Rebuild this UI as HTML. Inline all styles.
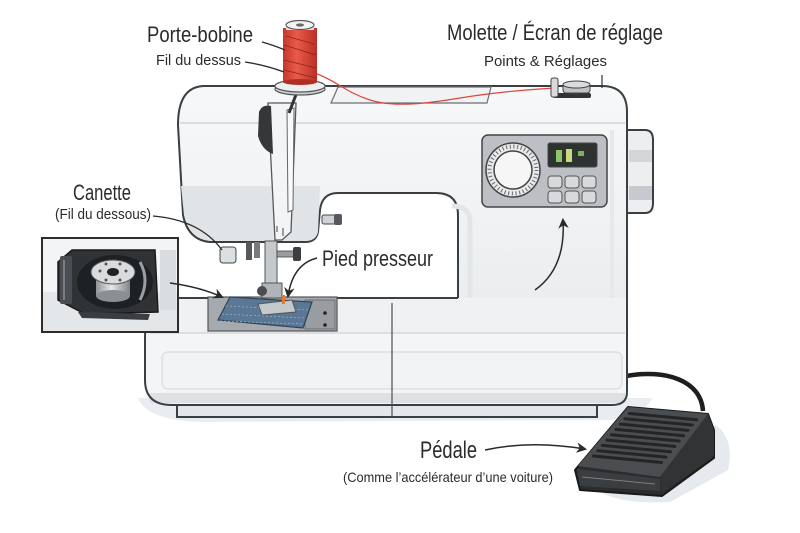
<!DOCTYPE html>
<html><head><meta charset="utf-8"><style>
html,body{margin:0;padding:0;background:#fff;}
svg{display:block;}
text{font-family:"Liberation Sans",sans-serif;fill:#2b2b2b;}
</style></head><body>
<svg width="800" height="533" viewBox="0 0 800 533" xmlns="http://www.w3.org/2000/svg">
<defs>
<marker id="ah" viewBox="0 0 10 10" refX="8" refY="5" markerWidth="7" markerHeight="7" orient="auto-start-reverse"><path d="M0,0 L10,5 L0,10 L3,5 Z" fill="#2a2a2a"/></marker>
<linearGradient id="spool" x1="0" x2="1"><stop offset="0" stop-color="#c7362b"/><stop offset="0.4" stop-color="#ea5a48"/><stop offset="1" stop-color="#b83025"/></linearGradient>
<linearGradient id="bob" x1="0" x2="1"><stop offset="0" stop-color="#8e9397"/><stop offset="0.45" stop-color="#e6e9eb"/><stop offset="1" stop-color="#80858a"/></linearGradient>
<linearGradient id="col" x1="0" y1="0" x2="0" y2="1"><stop offset="0" stop-color="#f7f8f9"/><stop offset="1" stop-color="#eaedef"/></linearGradient>
</defs>
<rect width="800" height="533" fill="#fff"/>

<!-- shadows -->
<path d="M138,398 Q146,420 200,422 L612,420 Q645,415 652,398 Z" fill="#e9ecf0"/>
<path d="M590,480 Q600,505 670,502 L728,470 Q735,440 716,425 Z" fill="#e6e9ed"/>

<!-- cable -->
<path d="M626,376 C665,369 701,380 703,411" fill="none" stroke="#1e1e1e" stroke-width="4.5"/>

<!-- base strip -->
<rect x="177" y="398" width="420" height="19" fill="#e4e7e9" stroke="#3a3f44" stroke-width="2"/>

<!-- upper body -->
<path d="M205,86 L602,86 Q627,86 627,112 L627,310 L458,310 L458,215 Q458,193 436,193 L338,193 Q322,193 320,210 L318,232 Q316,242 305,242 L210,242 Q188,240 183,215 L178,125 Q178,86 205,86 Z" fill="url(#col)" stroke="#3a3f44" stroke-width="2"/>
<!-- head lower shading -->
<path d="M181,186 L320,186 L318,232 Q316,241 305,241 L210,241 Q189,239 184,215 Z" fill="#e0e4e7"/>
<path d="M180,123 L625,123" stroke="#d9dde0" stroke-width="2"/>
<!-- column bevel -->
<path d="M470,300 L470,222 Q470,206 452,206" fill="none" stroke="#e3e6e9" stroke-width="5"/>
<path d="M612,130 L612,300" stroke="#e6e9eb" stroke-width="4"/>

<!-- opening knob -->
<rect x="322" y="215" width="18" height="9" rx="2" fill="#d0d3d6" stroke="#444" stroke-width="1"/>
<rect x="334" y="214" width="8" height="11" rx="2" fill="#55595d"/>

<!-- top recess -->
<path d="M338,87 L491,87 L487,103 L331,103 Z" fill="#f1f2f3" stroke="#6a6f74" stroke-width="1.2"/>

<!-- handwheel -->
<path d="M627,130 L645,130 Q653,130 653,140 L653,203 Q653,213 645,213 L627,213 Z" fill="#eceef0" stroke="#3a3f44" stroke-width="2"/>
<rect x="629" y="150" width="23" height="12" fill="#d3d7da"/>
<rect x="629" y="186" width="23" height="14" fill="#c6cace"/>

<!-- needle bar column -->
<path d="M268,103 L296,103 L291,232 L282,240 L275,240 Z" fill="#f3f4f5" stroke="#55595d" stroke-width="1.3"/>
<path d="M287,110 L294,108 L293,210 L288,212 Z" fill="#fafafa" stroke="#666" stroke-width="1"/>
<path d="M259,112 Q262,104 271,106 L273,154 Q262,150 258,136 Z" fill="#34383b"/>
<path d="M297,92 L289,113" stroke="#333" stroke-width="3"/>
<path d="M283,228 L283,236 M277,226 L277,232" stroke="#444" stroke-width="1"/>

<!-- spool -->
<ellipse cx="300" cy="89" rx="25" ry="6" fill="#cfd2d4" stroke="#55595d" stroke-width="1.2"/>
<ellipse cx="300" cy="86" rx="25" ry="6" fill="#eeeff0" stroke="#55595d" stroke-width="1.2"/>
<rect x="283" y="28" width="34" height="54" fill="url(#spool)"/>
<path d="M284,45 L316,55 M284,60 L316,68 M284,70 L316,78 M286,36 L314,44" stroke="#8e241b" stroke-width="0.8"/>
<ellipse cx="300" cy="82" rx="17" ry="3" fill="#b02e24"/>
<rect x="286" y="25" width="28" height="5" fill="#e2e3e4"/>
<ellipse cx="300" cy="25" rx="14" ry="4.5" fill="#f2f2f2" stroke="#55595d" stroke-width="1.2"/>
<ellipse cx="300" cy="25" rx="4" ry="1.6" fill="#666"/>

<!-- thread -->
<path d="M317,74 C335,80 345,92 370,100 S430,103 460,98 S520,90 556,88" fill="none" stroke="#e0453a" stroke-width="1.2"/>

<!-- top right pin / knob -->
<rect x="553" y="93" width="38" height="5" rx="2" fill="#333"/>
<rect x="551" y="78" width="7" height="19" rx="2" fill="#d8dadc" stroke="#444" stroke-width="1"/>
<rect x="563" y="84" width="27" height="9" rx="3" fill="#bfc3c6" stroke="#444" stroke-width="1"/>
<ellipse cx="576.5" cy="84.5" rx="13.5" ry="3.5" fill="#d9dcde" stroke="#444" stroke-width="1"/>
<path d="M602,75 L602,88" stroke="#333" stroke-width="1.2"/>

<!-- control panel -->
<rect x="482" y="135" width="125" height="72" rx="6" fill="#bcc0c4" stroke="#444" stroke-width="1.5"/>
<circle cx="513" cy="170" r="27" fill="#e9eaeb" stroke="#444" stroke-width="1.5"/>
<circle cx="513" cy="170" r="23.5" fill="none" stroke="#666" stroke-width="4" stroke-dasharray="1 2.7"/>
<circle cx="513" cy="170" r="19" fill="#f6f6f6" stroke="#444" stroke-width="1.5"/>
<rect x="548" y="143" width="49" height="24" rx="2" fill="#2e3331" stroke="#444" stroke-width="1"/>
<rect x="556" y="150" width="6" height="12" fill="#8fc46a"/>
<rect x="566" y="149" width="6" height="13" fill="#c6dc7c"/>
<rect x="578" y="151" width="6" height="5" fill="#7bb35a"/>
<g fill="#d7dadc" stroke="#555" stroke-width="1">
<rect x="548" y="176" width="14" height="12" rx="3"/><rect x="565" y="176" width="14" height="12" rx="3"/><rect x="582" y="176" width="14" height="12" rx="3"/>
<rect x="548" y="191" width="14" height="12" rx="3"/><rect x="565" y="191" width="14" height="12" rx="3"/><rect x="582" y="191" width="14" height="12" rx="3"/>
</g>

<!-- bed -->
<path d="M178,298 L627,298 L627,392 Q627,405 612,405 L172,405 Q145,405 145,380 L145,338 Q145,298 178,298 Z" fill="#f4f5f6"/>
<rect x="150" y="299" width="475" height="34" fill="#eff1f2"/>
<path d="M150,333 L625,333" stroke="#d4d8db" stroke-width="1.5"/>
<rect x="162" y="352" width="460" height="37" rx="6" fill="#f1f3f4" stroke="#d7dbde" stroke-width="1.2"/>
<path d="M148,393 L625,393 L625,403 L150,403 Z" fill="#dde1e4"/>
<path d="M458,298 L178,298 Q145,298 145,338 L145,380 Q145,405 172,405 L612,405 Q627,405 627,392 L627,290" fill="none" stroke="#3a3f44" stroke-width="2"/>
<path d="M392,303 L392,417" stroke="#4a4f54" stroke-width="1.2"/>

<!-- needle plate & fabric -->
<rect x="208" y="297" width="129" height="34" fill="#a6aaae" stroke="#555" stroke-width="1.2"/>
<rect x="305" y="300" width="30" height="29" fill="#999da1" stroke="#666" stroke-width="0.8"/>
<circle cx="325" cy="313" r="1.8" fill="#222"/><circle cx="325" cy="325" r="1.8" fill="#222"/>
<path d="M218,320 L230,297 L312,302 L303,328 Z" fill="#5a7895" stroke="#2e4358" stroke-width="1.2"/>
<path d="M226,306 L308,310 M222,314 L305,318 M220,321 L304,324" stroke="#9fb4c8" stroke-width="0.7" stroke-dasharray="2 2"/>

<!-- head underside parts -->
<rect x="220" y="247" width="16" height="16" rx="3" fill="#dcdfe1" stroke="#444" stroke-width="1"/>
<rect x="246" y="242" width="6" height="18" fill="#55595d"/>
<rect x="254" y="242" width="6" height="16" fill="#777b7f"/>
<rect x="265" y="241" width="12" height="52" fill="#c5c9cc" stroke="#555" stroke-width="1"/>
<rect x="277" y="251" width="17" height="6" fill="#9a9ea2" stroke="#444" stroke-width="0.8"/>
<rect x="293" y="247" width="8" height="14" rx="2" fill="#3c3f42"/>
<rect x="262" y="283" width="20" height="15" fill="#b0b4b8" stroke="#555" stroke-width="1"/>
<circle cx="262" cy="291" r="5" fill="#4a4d50"/>
<path d="M258,304 L292,300 L296,312 L262,315 Z" fill="#c5c9cc" stroke="#555" stroke-width="1"/>
<rect x="282" y="295" width="3" height="9" fill="#e07b30"/>

<!-- inset -->
<rect x="42" y="238" width="136" height="94" fill="#f3f4f5" stroke="#2d2d2d" stroke-width="2"/>
<rect x="43" y="292" width="134" height="39" fill="#e4e7ea"/>
<rect x="160" y="250" width="16" height="60" fill="#dadde0"/>
<path d="M72,250 L155,250 L158,312 L85,314 L58,300 L58,262 Z" fill="#2f3336" stroke="#1a1a1a" stroke-width="1.5"/>
<rect x="60" y="256" width="12" height="48" rx="2" fill="#4a4e52"/>
<path d="M64,260 L64,300" stroke="#8a8f94" stroke-width="1.5"/>
<ellipse cx="115" cy="282" rx="38" ry="27" fill="#1d2124"/>
<path d="M140,262 Q150,280 140,300" fill="none" stroke="#9a9ea2" stroke-width="3"/>
<rect x="96" y="272" width="34" height="24" fill="url(#bob)"/>
<ellipse cx="113" cy="296" rx="17" ry="6" fill="#8a8f93"/>
<ellipse cx="113" cy="272" rx="22" ry="12" fill="#d8dcdf" stroke="#555" stroke-width="1"/>
<ellipse cx="113" cy="272" rx="6" ry="4" fill="#222"/>
<g fill="#555"><circle cx="100" cy="271" r="1.5"/><circle cx="126" cy="271" r="1.5"/><circle cx="106" cy="264" r="1.5"/><circle cx="120" cy="264" r="1.5"/><circle cx="106" cy="280" r="1.5"/><circle cx="120" cy="280" r="1.5"/></g>
<path d="M78,312 L150,314 L148,320 L82,318 Z" fill="#3a3e42"/>

<!-- pedal -->
<path d="M575,470 L628,407 L708,414 L714,430 L714,458 L662,496 L580,490 Z" fill="#2a2c2e" stroke="#1a1a1a" stroke-width="2" stroke-linejoin="round"/>
<path d="M578,466 L628,407 L708,414 L660,477 Z" fill="#4b4e51"/>
<path d="M660,477 L708,414 L714,430 L714,456 L662,493 Z" fill="#313335"/>
<path d="M577,469 L660,479 L660,491 L580,486 Z" fill="#3b3e41"/>
<path d="M582,477 L655,484" stroke="#7a7e82" stroke-width="1"/>
<g stroke="#232527" stroke-width="3" stroke-linecap="round">
<path d="M629.4,413.5 L696.6,419.7"/><path d="M624.9,418.8 L692.3,425"/><path d="M620.4,424.1 L688,430.4"/>
<path d="M615.9,429.4 L683.6,435.7"/><path d="M611.4,434.7 L679.2,441"/><path d="M606.9,440.1 L674.8,446.4"/>
<path d="M602.4,445.4 L670.4,451.8"/><path d="M597.9,450.7 L666,457.1"/><path d="M593.4,456 L661.6,462.5"/>
</g>

<!-- labels -->
<text x="147" y="42" font-size="22" textLength="106" lengthAdjust="spacingAndGlyphs">Porte-bobine</text>
<text x="156" y="65" font-size="15" textLength="85" lengthAdjust="spacingAndGlyphs">Fil du dessus</text>
<path d="M262,42 Q273,45 285,50" fill="none" stroke="#2a2a2a" stroke-width="1.3"/>
<path d="M245,62 Q265,65 284,72" fill="none" stroke="#2a2a2a" stroke-width="1.3"/>

<text x="447" y="40" font-size="22" textLength="216" lengthAdjust="spacingAndGlyphs">Molette / Écran de réglage</text>
<text x="484" y="66" font-size="15" textLength="123" lengthAdjust="spacingAndGlyphs">Points &amp; Réglages</text>

<text x="73" y="200" font-size="22" textLength="58" lengthAdjust="spacingAndGlyphs">Canette</text>
<text x="55" y="219" font-size="15" textLength="96" lengthAdjust="spacingAndGlyphs">(Fil du dessous)</text>
<path d="M153,216 Q200,220 222,250" fill="none" stroke="#2a2a2a" stroke-width="1.3"/>
<path d="M170,283 Q200,287 222,297" fill="none" stroke="#2a2a2a" stroke-width="1.5" marker-end="url(#ah)"/>

<text x="322" y="266" font-size="22" textLength="111" lengthAdjust="spacingAndGlyphs">Pied presseur</text>
<path d="M317,258 Q293,264 288,296" fill="none" stroke="#2a2a2a" stroke-width="1.5" marker-end="url(#ah)"/>

<path d="M535,290 Q566,268 563,220" fill="none" stroke="#2a2a2a" stroke-width="1.5" marker-end="url(#ah)"/>

<text x="420" y="458" font-size="24" textLength="57" lengthAdjust="spacingAndGlyphs">Pédale</text>
<text x="343" y="482" font-size="14" textLength="210" lengthAdjust="spacingAndGlyphs">(Comme l’accélérateur d’une voiture)</text>
<path d="M485,450 Q530,440 585,449" fill="none" stroke="#2a2a2a" stroke-width="1.5" marker-end="url(#ah)"/>
</svg>
</body></html>
